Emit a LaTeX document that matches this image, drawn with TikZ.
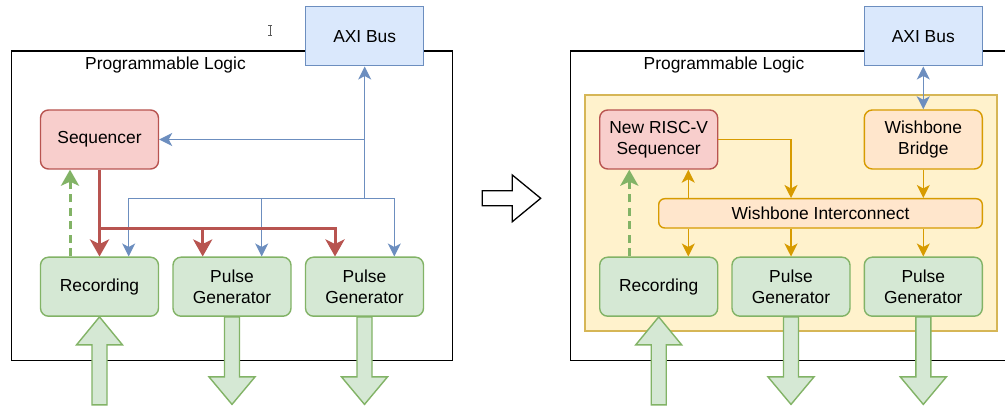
\documentclass[tikz,border=0pt]{standalone}
\usepackage{fontspec}
\setmainfont{Liberation Sans}
\usetikzlibrary{arrows.meta}
\definecolor{bluef}{HTML}{DAE8FC}\definecolor{blues}{HTML}{6C8EBF}
\definecolor{redf}{HTML}{F8CECC}\definecolor{reds}{HTML}{B85450}
\definecolor{greenf}{HTML}{D5E8D4}\definecolor{greens}{HTML}{82B366}
\definecolor{yelf}{HTML}{FFF2CC}\definecolor{yels}{HTML}{D6B656}
\definecolor{oranf}{HTML}{FFE6CC}\definecolor{orans}{HTML}{D79B00}
\tikzset{
  box/.style={draw, line width=1.4pt, rounded corners=8pt, minimum width=118pt, minimum height=59pt, inner sep=0pt, align=center, font=\fontsize{17.4}{21.5}\selectfont},
  axibox/.style={box, rounded corners=0pt, fill=bluef, draw=blues},
  redbox/.style={box, fill=redf, draw=reds},
  greenbox/.style={box, fill=greenf, draw=greens},
  orbox/.style={box, fill=oranf, draw=orans},
  frame/.style={draw=black, line width=1.3pt},
  bl/.style={draw=blues, line width=1.4pt, -{Stealth[length=13pt,width=13pt,inset=3.5pt]}},
  bl2/.style={draw=blues, line width=1.4pt, {Stealth[length=13pt,width=13pt,inset=3.5pt]}-{Stealth[length=13pt,width=13pt,inset=3.5pt]}},
  rd/.style={draw=reds, line width=3pt, -{Stealth[length=17pt,width=19pt,inset=4.5pt]}},
  gd/.style={draw=greens, line width=3pt, dash pattern=on 8pt off 5.5pt, -{Stealth[length=16pt,width=18pt,inset=4pt]}},
  orr/.style={draw=orans, line width=1.4pt, -{Stealth[length=13pt,width=13pt,inset=3.5pt]}},
  blk/.style={draw=greens, fill=greenf, line width=1.4pt, line join=miter},
  lbl/.style={font=\fontsize{17.4}{21.5}\selectfont, inner sep=0pt}
}
\begin{document}
\begin{tikzpicture}[x=1pt,y=-1pt]
\clip (0,0) rectangle (1005,406);
\fill[white] (0,0) rectangle (1005,406);
% ===== left =====
\draw[frame] (11.3,51) rectangle (452.7,360.3);
\node[lbl] (plL) at (165.5,65) {Programmable Logic};
\node[axibox] (axiL) at (364.7,36.3) {AXI Bus};
\node[redbox] (seqL) at (99.5,139.5) {Sequencer};
\node[greenbox] (recL) at (99.5,286.7) {Recording};
\node[greenbox] (pg1L) at (232,286.7) {Pulse\\Generator};
\node[greenbox] (pg2L) at (364.5,286.7) {Pulse\\Generator};
% cursor glyph
\draw[gray!70!black, line width=0.7pt] (270,25.5) -- (270,35.5) (268.3,25.3) -- (271.7,25.3) (268.3,35.7) -- (271.7,35.7);
% blue
\coordinate (busL) at (364.7,198.7);
\draw[bl] (busL) -- (axiL.south);
\draw[bl] (axiL.south |- seqL.east) -- (seqL.east);
\draw[bl] (busL) -| ([xshift=29.2]recL.north);
\draw[bl] (busL) -| ([xshift=29.8]pg2L.north);
\draw[bl] ([xshift=29.7]pg1L.north |- busL) -- ([xshift=29.7]pg1L.north);
% red
\coordinate (rjL) at (99.5,228.3);
\draw[rd] (seqL.south) -- (recL.north);
\draw[rd] (rjL) -| ([xshift=-29.5]pg2L.north);
\draw[rd] ([xshift=-29.3]pg1L.north |- rjL) -- ([xshift=-29.3]pg1L.north);
% green dashed
\draw[gd] ([xshift=-29.5]recL.north) -- ([xshift=-29.5]seqL.south);
% block arrows
\draw[blk] (recL.south) -- ++(23,28) -- ++(-15.5,0) -- ++(0,60) -- ++(-15,0) -- ++(0,-60) -- ++(-15.5,0) -- cycle;
\draw[blk] ([xshift=-7.5]pg1L.south) -- ++(0,60) -- ++(-15.5,0) -- ++(23,27.5) -- ++(23,-27.5) -- ++(-15.5,0) -- ++(0,-60) -- cycle;
\draw[blk] ([xshift=-7.5]pg2L.south) -- ++(0,60) -- ++(-15.5,0) -- ++(23,27.5) -- ++(23,-27.5) -- ++(-15.5,0) -- ++(0,-60) -- cycle;
% ===== middle arrow =====
\draw[black, fill=white, line width=1.3pt, line join=miter] (482.3,190.7) -- (512.3,190.7) -- (512.3,175) -- (540.7,198.3) -- (512.3,221.7) -- (512.3,205.7) -- (482.3,205.7) -- cycle;
% ===== right =====
\draw[frame] (570.7,51) rectangle (1012,360.3);
\node[lbl] (plR) at (724,65) {Programmable Logic};
\draw[draw=yels, fill=yelf, line width=1.6pt] (585,95.3) rectangle (997,331);
\node[axibox] (axiR) at (923.3,36.3) {AXI Bus};
\node[redbox] (seqR) at (658.7,139.5) {New RISC-V\\Sequencer};
\node[orbox] (brR) at (923.3,139.5) {Wishbone\\Bridge};
\node[orbox, minimum width=323.6pt, minimum height=29.3pt, rounded corners=6pt] (wiR) at (820.5,213.35) {Wishbone Interconnect};
\node[greenbox] (recR) at (658.7,286.7) {Recording};
\node[greenbox] (pg1R) at (791,286.7) {Pulse\\Generator};
\node[greenbox] (pg2R) at (923.3,286.7) {Pulse\\Generator};
% blue double
\draw[bl2] (axiR.south) -- (brR.north);
% orange
\draw[orr] (seqR.east) -| (pg1R.north |- wiR.north);
\draw[orr] (brR.south) -- (brR.south |- wiR.north);
\draw[orr] ([xshift=29.6]seqR.south |- wiR.north) -- ([xshift=29.6]seqR.south);
\draw[orr] ([xshift=29.6]recR.north |- wiR.south) -- ([xshift=29.6]recR.north);
\draw[orr] (pg1R.north |- wiR.south) -- (pg1R.north);
\draw[orr] (pg2R.north |- wiR.south) -- (pg2R.north);
% green dashed
\draw[gd] ([xshift=-29.4]recR.north) -- ([xshift=-29.4]seqR.south);
% block arrows
\draw[blk] (recR.south) -- ++(23,28) -- ++(-15.5,0) -- ++(0,60) -- ++(-15,0) -- ++(0,-60) -- ++(-15.5,0) -- cycle;
\draw[blk] ([xshift=-7.5]pg1R.south) -- ++(0,60) -- ++(-15.5,0) -- ++(23,27.5) -- ++(23,-27.5) -- ++(-15.5,0) -- ++(0,-60) -- cycle;
\draw[blk] ([xshift=-7.5]pg2R.south) -- ++(0,60) -- ++(-15.5,0) -- ++(23,27.5) -- ++(23,-27.5) -- ++(-15.5,0) -- ++(0,-60) -- cycle;
\end{tikzpicture}
\end{document}
